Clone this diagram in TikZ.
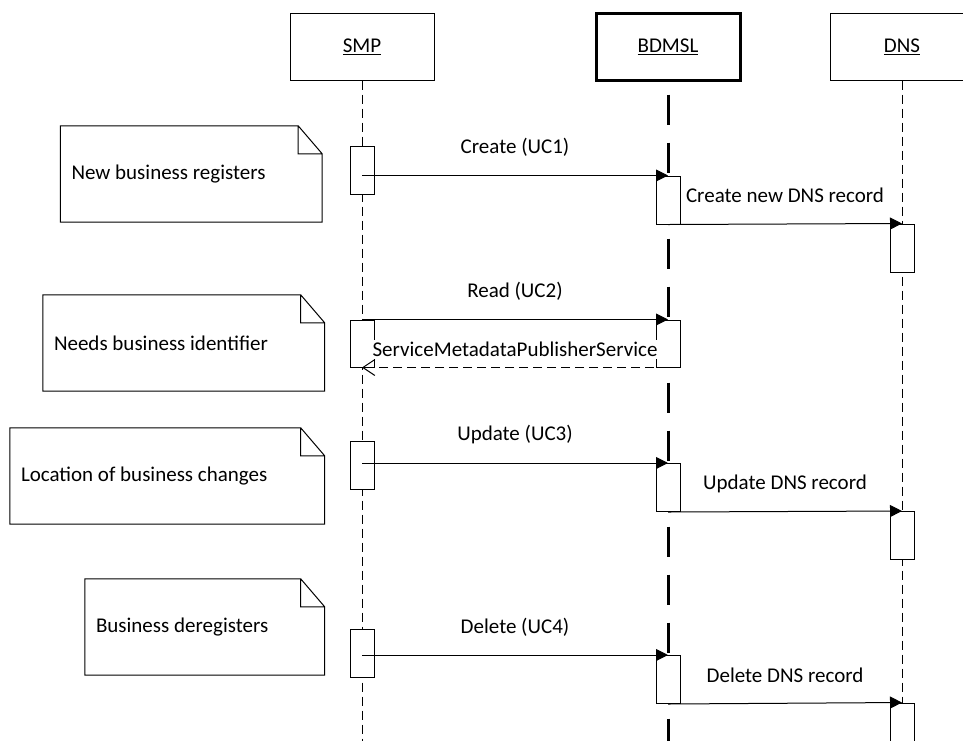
\documentclass[tikz,border=0pt]{standalone}
\usepackage{fontspec}
\setmainfont{Carlito}
\usetikzlibrary{arrows.meta,positioning}
\tikzset{head/.style = {shape=rectangle,draw,line width=1pt,minimum width=144pt,minimum height=67pt,inner sep=0pt}}
\tikzset{act/.style = {shape=rectangle,draw,fill=white,line width=1pt,minimum width=24pt,minimum height=48pt,inner sep=0pt}}
\tikzset{note/.style = {shape=rectangle,inner xsep=11pt,inner ysep=0pt,align=flush left,minimum height=96pt}}
\tikzset{life/.style = {line width=1pt,dash pattern=on 9pt off 5pt}}
\tikzset{msg/.style = {-{Triangle[length=12pt,width=12pt]},line width=1pt}}
\tikzset{reply/.style = {-{Straight Barb[length=12pt,width=16pt]},line width=1pt,dash pattern=on 9pt off 5pt}}
\tikzset{lbl/.style = {midway,yshift=28pt,inner sep=2pt}}

\begin{document}
\begin{tikzpicture}[x=1pt,y=-1pt,font=\fontsize{21}{25}\selectfont]
		\clip (0,0) rectangle (963,740);
		% lifeline heads
		\node[head] (smp) at (362,46.5) {\underline{SMP}};
		\node[head,line width=3pt] (bdmsl) at (668,46.5) {\underline{BDMSL}};
		\node[head] (dns) at (902,46.5) {\underline{DNS}};
		\coordinate (bottom) at (0,760);
		% lifelines
		\draw[life] (smp.south) -- (smp.south |- bottom);
		\draw[life] (dns.south) -- (dns.south |- bottom);
		\draw[line width=3pt,dash pattern=on 30pt off 18pt,dash phase=35pt] (bdmsl.south) -- (bdmsl.south |- bottom);
		% notes
		\node[note,text width=239.5pt] (note1) at (191.25,174) {New business registers};
		\node[note,text width=259.5pt] (note2) at (183.75,343) {Needs business identifier};
		\node[note,text width=292.5pt] (note3) at (167.25,476) {Location of business changes};
		\node[note,text width=217.5pt] (note4) at (204.75,627) {Business deregisters};
		\foreach \n in {note1,note2,note3,note4}
			\draw[line width=1pt] (\n.north west) -- ([xshift=-24pt]\n.north east) -- ([yshift=-28pt]\n.north east)
				-- (\n.south east) -- (\n.south west) -- cycle
				([xshift=-24pt]\n.north east) |- ([yshift=-28pt]\n.north east);
		% activations
		\node[act] (smpA1) at (362,170) {};
		\node[act] (bdA1) at (668,200) {};
		\node[act] (dnsA1) at (902,248) {};
		\node[act,minimum height=47pt] (smpA2) at (362,343.5) {};
		\node[act,minimum height=47pt] (bdA2) at (668,343.5) {};
		\node[act] (smpA3) at (362,465) {};
		\node[act] (bdA3) at (668,487.5) {};
		\node[act] (dnsA3) at (902,535.5) {};
		\node[act] (smpA4) at (362,653) {};
		\node[act] (bdA4) at (668,679.5) {};
		\node[act] (dnsA4) at (902,727) {};
		% messages
		\draw[msg] (smpA1 |- bdA1.north) -- (bdA1.north) node[lbl] (lbCreate) {Create (UC1)};
		\draw[msg] (bdA1.south) -- (dnsA1.north) node[lbl,yshift=1pt] (lbCreateDns) {Create new DNS record};
		\draw[msg] (smpA2.north) -- (bdA2.north) node[lbl] (lbRead) {Read (UC2)};
		\draw[reply] (bdA2.south) -- (smpA2.south) node[lbl,yshift=-10pt,fill=white] (lbSmps) {ServiceMetadataPublisherService};
		\draw[msg] (smpA3 |- bdA3.north) -- (bdA3.north) node[lbl] (lbUpdate) {Update (UC3)};
		\draw[msg] (bdA3.south) -- (dnsA3.north) node[lbl] (lbUpdateDns) {Update DNS record};
		\draw[msg] (smpA4 |- bdA4.north) -- (bdA4.north) node[lbl] (lbDelete) {Delete (UC4)};
		\draw[msg] (bdA4.south) -- (dnsA4.north) node[lbl] (lbDeleteDns) {Delete DNS record};
	\end{tikzpicture}
\end{document}
